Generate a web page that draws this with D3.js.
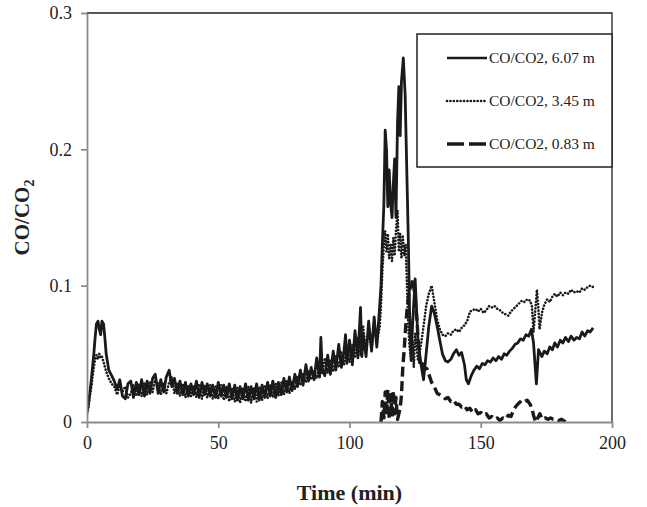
<!DOCTYPE html>
<html>
<head>
<meta charset="utf-8">
<script src="https://cdnjs.cloudflare.com/ajax/libs/d3/7.8.5/d3.min.js"></script>
<style>
  body { margin: 0; background: #fff; }
  text { font-family: "Liberation Serif", "Times New Roman", serif; fill: #222; }
</style>
</head>
<body>
<div id="chart"></div>
<script>
// series data: [time (min), CO/CO2]
var s607 = [
  [0,0.007],[0.5,0.012],[1,0.02],[1.6,0.03],[2.1,0.04],[2.6,0.05],[3.1,0.062],[3.6,0.072],[4.2,0.074],[4.7,0.068],
  [5.2,0.064],[5.7,0.074],[6.3,0.072],[6.8,0.062],[7.3,0.05],[7.8,0.044],[8.3,0.038],[9.4,0.034],[10.4,0.03],
  [11.5,0.024],[12.5,0.031],[13.5,0.019],[14.6,0.017],[15.6,0.028],[16.7,0.03],[17.7,0.018],[18.8,0.029],[19.8,0.02],
  [20.8,0.031],[21.9,0.019],[22.9,0.03],[24,0.021],[25,0.032],[26,0.035],[27.1,0.021],[28.1,0.031],[29.2,0.022],
  [30.2,0.033],[31.3,0.038],[32.3,0.026],[33.3,0.032],[34.4,0.021],[35.4,0.03],[36.5,0.02],[37.5,0.029],[38.6,0.019],
  [39.6,0.028],[40.6,0.02],[41.7,0.03],[42.7,0.018],[43.8,0.029],[44.8,0.02],[45.8,0.028],[46.9,0.019],[47.9,0.027],
  [49,0.018],[50,0.029],[51.1,0.019],[52.1,0.027],[53.1,0.018],[54.2,0.028],[55.2,0.017],[56.3,0.027],[57.3,0.016],
  [58.3,0.026],[59.4,0.017],[60.4,0.028],[61.5,0.016],[62.5,0.026],[63.6,0.017],[64.6,0.028],[65.6,0.016],[66.7,0.027],
  [67.7,0.018],[68.8,0.029],[69.8,0.019],[70.8,0.03],[71.9,0.018],[72.9,0.029],[74,0.02],[75,0.032],[76.1,0.022],
  [77.1,0.033],[78.1,0.023],[79.2,0.035],[80.2,0.026],[81.3,0.038],[82.3,0.027],[83.4,0.042],[84.4,0.03],[85.4,0.04],
  [86.5,0.031],[87.5,0.047],[88.6,0.033],[89.1,0.062],[89.6,0.038],[90.6,0.034],[91.7,0.049],[92.7,0.035],[93.8,0.052],
  [94.8,0.038],[95.9,0.057],[96.9,0.04],[97.9,0.052],[98.5,0.064],[99,0.043],[100,0.06],[101.1,0.042],[102.1,0.067],
  [103.2,0.047],[104.2,0.084],[104.7,0.048],[105.2,0.064],[106.3,0.048],[107.3,0.074],[108.4,0.052],[109.4,0.077],
  [110.4,0.055],[111.5,0.085],[112,0.1],[112.5,0.13],[113.1,0.16],[113.6,0.214],[114.1,0.2],[114.6,0.158],[115.1,0.185],
  [115.7,0.16],[116.2,0.15],[116.7,0.175],[117.2,0.193],[117.7,0.15],[118.3,0.22],[118.8,0.246],[119.3,0.21],
  [119.8,0.25],[120.5,0.267],[121.2,0.24],[121.9,0.178],[122.4,0.134],[122.9,0.08],[123.5,0.045],[124,0.07],
  [125,0.105],[125.6,0.08],[126.1,0.06],[127.1,0.044],[128.2,0.031],[129.2,0.05],[130.2,0.07],[131.3,0.085],
  [132.3,0.08],[133.4,0.07],[134.4,0.06],[135.4,0.05],[136.5,0.045],[137.5,0.044],[138.6,0.046],[139.6,0.05],
  [140.7,0.053],[141.7,0.049],[142.7,0.051],[143.8,0.042],[144.5,0.031],[145.3,0.028],[146.4,0.034],[147.4,0.038],
  [148.5,0.041],[149.5,0.039],[150.6,0.043],[151.6,0.042],[152.6,0.045],[153.7,0.044],[154.7,0.047],[155.8,0.045],
  [156.8,0.048],[157.9,0.046],[158.9,0.05],[159.9,0.049],[161,0.052],[162,0.054],[163.1,0.057],[164.1,0.058],
  [165.1,0.061],[166.2,0.06],[167.2,0.064],[168.3,0.063],[169.3,0.068],[170.1,0.058],[171.2,0.028],[172,0.053],
  [173.3,0.048],[174.2,0.052],[175.3,0.05],[176.3,0.055],[177.3,0.053],[178.2,0.058],[179.2,0.055],[180.3,0.06],
  [181.3,0.058],[182.3,0.062],[183.4,0.059],[184.4,0.063],[185.5,0.06],[186.5,0.062],[187.6,0.061],[188.6,0.066],
  [189.6,0.063],[190.7,0.067],[191.7,0.066],[192.8,0.069]
];

var s345 = [
  [0,0.006],[0.5,0.01],[1,0.018],[1.6,0.025],[2.1,0.033],[2.6,0.04],[3.1,0.046],[3.6,0.049],[4.2,0.046],[4.7,0.05],
  [5.2,0.047],[5.7,0.048],[6.3,0.044],[7.3,0.037],[8.3,0.032],[9.4,0.028],[10.4,0.026],[11.5,0.02],[12.5,0.027],
  [13.5,0.022],[14.6,0.026],[15.6,0.018],[16.7,0.021],[17.7,0.027],[18.8,0.019],[19.8,0.028],[20.8,0.019],[21.9,0.029],
  [22.9,0.02],[24,0.029],[25,0.022],[26,0.031],[27.1,0.028],[28.1,0.02],[29.2,0.029],[30.2,0.021],[31.3,0.029],
  [32.3,0.033],[33.3,0.021],[34.4,0.029],[35.4,0.019],[36.5,0.028],[37.5,0.018],[38.6,0.027],[39.6,0.019],[40.6,0.027],
  [41.7,0.018],[42.7,0.028],[43.8,0.017],[44.8,0.027],[45.8,0.018],[46.9,0.027],[47.9,0.017],[49,0.026],[50,0.017],
  [51.1,0.027],[52.1,0.016],[53.1,0.026],[54.2,0.015],[55.2,0.025],[56.3,0.015],[57.3,0.025],[58.3,0.014],[59.4,0.025],
  [60.4,0.015],[61.5,0.026],[62.5,0.014],[63.6,0.025],[64.6,0.015],[65.6,0.026],[66.7,0.016],[67.7,0.027],[68.8,0.017],
  [69.8,0.027],[70.8,0.018],[71.9,0.028],[72.9,0.019],[74,0.029],[75,0.02],[76.1,0.03],[77.1,0.021],[78.1,0.03],
  [79.2,0.024],[80.2,0.033],[81.3,0.027],[82.3,0.035],[83.4,0.029],[84.4,0.038],[85.4,0.031],[86.5,0.037],[87.5,0.032],
  [88.6,0.042],[89.6,0.035],[90.6,0.047],[91.7,0.036],[92.7,0.045],[93.8,0.037],[94.8,0.048],[95.9,0.04],[96.9,0.051],
  [97.9,0.042],[99,0.055],[100,0.044],[101.1,0.057],[102.1,0.047],[103.2,0.062],[104.2,0.049],[105.2,0.07],
  [106.3,0.052],[107.3,0.068],[108.4,0.053],[109.4,0.072],[110.4,0.057],[111.5,0.07],[112,0.085],[112.5,0.11],
  [113.1,0.13],[113.6,0.14],[114.1,0.125],[114.6,0.138],[115.1,0.12],[115.7,0.13],[116.2,0.118],[116.7,0.135],
  [117.2,0.122],[117.7,0.14],[118.3,0.155],[118.8,0.125],[119.3,0.138],[119.8,0.12],[120.3,0.136],[120.9,0.122],
  [121.4,0.13],[121.9,0.1],[122.4,0.07],[122.9,0.055],[123.5,0.045],[124,0.06],[124.5,0.04],[125,0.065],[126.1,0.045],
  [127.1,0.055],[128.2,0.07],[129.2,0.085],[130.2,0.094],[131.3,0.1],[132.3,0.088],[133.4,0.075],[134.4,0.068],
  [135.4,0.064],[136.5,0.063],[137.5,0.065],[138.6,0.064],[139.6,0.067],[140.7,0.068],[141.7,0.066],[142.7,0.069],
  [143.8,0.071],[144.8,0.074],[145.9,0.081],[146.9,0.082],[148,0.083],[149,0.081],[150,0.083],[151.1,0.08],
  [152.1,0.082],[153.2,0.085],[154.2,0.084],[155.3,0.085],[156.3,0.083],[157.3,0.082],[158.4,0.08],[159.4,0.079],
  [160.5,0.078],[161.5,0.081],[162.5,0.083],[163.6,0.085],[164.6,0.087],[165.7,0.089],[166.7,0.088],[167.7,0.09],
  [168.8,0.089],[169.5,0.085],[170.1,0.066],[170.9,0.085],[171.4,0.097],[171.9,0.085],[172.4,0.068],[173.3,0.08],
  [174.2,0.086],[175.3,0.09],[176.3,0.088],[177.3,0.092],[178.2,0.094],[179.2,0.092],[180.3,0.095],[181.3,0.093],
  [182.3,0.095],[183.4,0.094],[184.4,0.097],[185.5,0.095],[186.5,0.096],[187.6,0.095],[188.6,0.098],[189.6,0.097],
  [190.7,0.099],[191.7,0.1],[192.8,0.099]
];

var s083 = [
  [112,0],[112.5,0.015],[113.1,0.003],[113.6,0.022],[114.1,0.005],[114.6,0.024],[115.1,0.002],[115.7,0.02],
  [116.2,0.004],[116.7,0.023],[117.2,0.006],[117.7,0.018],[118.3,0.002],[118.8,0.006],[119.3,0.01],[119.8,0.02],
  [120.3,0.04],[120.9,0.055],[121.4,0.07],[121.9,0.082],[122.4,0.09],[122.9,0.097],[123.5,0.1],[124.2,0.105],
  [125,0.09],[125.7,0.075],[126.3,0.055],[126.9,0.041],[127.6,0.043],[128.5,0.04],[129.5,0.039],[130.4,0.034],
  [131.3,0.029],[132.3,0.026],[133.4,0.021],[134.4,0.02],[135.4,0.019],[136.5,0.017],[137.5,0.018],[138.6,0.015],
  [139.6,0.016],[140.7,0.013],[141.7,0.013],[142.7,0.011],[143.8,0.012],[144.8,0.009],[145.9,0.01],[146.9,0.007],
  [148,0.009],[149,0.006],[150,0.007],[151.1,0.005],[152.1,0.006],[153.2,0.003],[154.2,0.004],[155.3,0.002],
  [156.3,0.003],[157.3,0.001],[158.4,0.003],[159.4,0.002],[160.5,0.005],[161.5,0.004],[162.5,0.009],[163.6,0.012],
  [164.6,0.014],[165.7,0.016],[166.7,0.015],[167.7,0.016],[168.8,0.013],[169.5,0.01],[170.1,0.005],[170.9,0],
  [171.7,0.003],[172.5,0.006],[173.5,0.002],[174.5,0.003],[175.6,0.002],[176.6,0.003],[177.6,0.002],[178.7,0.002],
  [179.7,0.001],[180.8,0.002],[182.3,0]
];

var seriesNames = ["CO/CO2, 6.07 m", "CO/CO2, 3.45 m", "CO/CO2, 0.83 m"];
var xTicks = [0, 50, 100, 150, 200];
var yTicks = [0, 0.1, 0.2, 0.3];

var svgWidth = 647;
var svgHeight = 507;
var margin = { top: 13, right: 35, bottom: 85, left: 87 };
var w = svgWidth - margin.left - margin.right;
var h = svgHeight - margin.top - margin.bottom;

var svg = d3.select("#chart")
  .append("svg")
  .attr("width", svgWidth)
  .attr("height", svgHeight);

svg.append("rect").attr("width", svgWidth).attr("height", svgHeight).attr("fill", "#fff");

var g = svg.append("g")
  .attr("transform", `translate(${margin.left}, ${margin.top})`);

var x = d3.scaleLinear().domain([0, 200]).range([0, w]);
var y = d3.scaleLinear().domain([0, 0.3]).range([h, 0]);

// clip so nothing goes below zero
g.append("clipPath").attr("id", "clip")
  .append("rect").attr("width", w).attr("height", h);

// plot frame (top + right black)
g.append("path")
  .attr("d", `M0,0H${w}V${h}`)
  .attr("fill", "none")
  .attr("stroke", "#222")
  .attr("stroke-width", 1.3);

var line = d3.line()
  .x(d => x(d[0]))
  .y(d => y(d[1]));

var lines = g.append("g").attr("clip-path", "url(#clip)");

var styles = [
  { data: s607, width: 2.8, dash: null, cap: "butt", legendDash: null },
  { data: s345, width: 2.6, dash: "0.1,3.2", cap: "round", legendDash: "0.1,3.3" },
  { data: s083, width: 3.4, dash: "10,4.5", cap: "butt", legendDash: "17,5" }
];

styles.forEach(function(s) {
  lines.append("path")
    .datum(s.data)
    .attr("d", line)
    .attr("fill", "none")
    .attr("stroke", "#1a1a1a")
    .attr("stroke-width", s.width)
    .attr("stroke-linejoin", "round")
    .attr("stroke-linecap", s.cap)
    .attr("stroke-dasharray", s.dash);
});

// axes
var bottomAxis = d3.axisBottom(x).tickValues(xTicks).tickSize(6).tickSizeOuter(0).tickPadding(8);
var leftAxis = d3.axisLeft(y).tickValues(yTicks).tickSize(6).tickSizeOuter(0).tickPadding(9)
  .tickFormat(d => d === 0 ? "0" : d3.format(".1f")(d));

var xg = g.append("g")
  .attr("transform", `translate(0, ${h})`)
  .call(bottomAxis);
var yg = g.append("g").call(leftAxis);

[xg, yg].forEach(function(a) {
  a.selectAll("path, line").attr("stroke", "#8c8c8c").attr("stroke-width", 1.8);
  a.selectAll("text")
    .style("font-family", "Liberation Serif, serif")
    .style("font-size", "18px")
    .attr("fill", "#222");
});

// legend
var lg = g.append("g").attr("transform", "translate(330, 21)");
lg.append("rect")
  .attr("width", 195)
  .attr("height", 133)
  .attr("fill", "#fff")
  .attr("stroke", "#222")
  .attr("stroke-width", 1.5);

seriesNames.forEach(function(name, i) {
  var yy = 24 + i * 43;
  lg.append("line")
    .attr("x1", 30).attr("x2", 70)
    .attr("y1", yy).attr("y2", yy)
    .attr("stroke", "#1a1a1a")
    .attr("stroke-width", i === 0 ? 2.4 : styles[i].width)
    .attr("stroke-linecap", styles[i].cap)
    .attr("stroke-dasharray", styles[i].legendDash);
  lg.append("text")
    .attr("x", 72)
    .attr("y", yy + 5)
    .style("font-size", "15.5px")
    .text(name);
});

// axis titles
g.append("text")
  .attr("x", w / 2)
  .attr("y", h + 78)
  .attr("text-anchor", "middle")
  .style("font-size", "22px")
  .style("font-weight", "bold")
  .text("Time (min)");

var yt = g.append("text")
  .attr("transform", `translate(${-58}, ${h / 2}) rotate(-90)`)
  .attr("text-anchor", "middle")
  .style("font-size", "21px")
  .style("font-weight", "bold");
yt.append("tspan").text("CO/CO");
yt.append("tspan").attr("dy", 5).style("font-size", "14px").text("2");
</script>
</body>
</html>
